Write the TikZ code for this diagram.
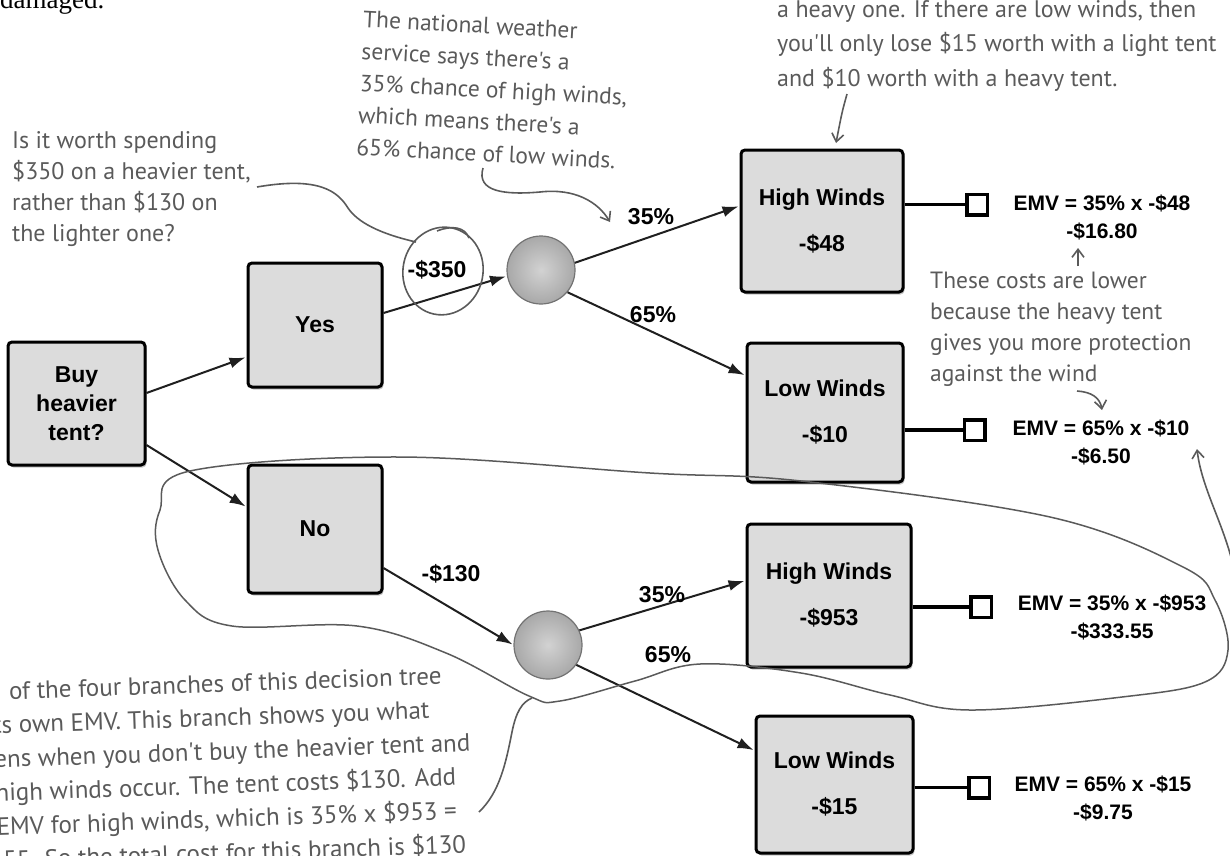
\documentclass[tikz,border=0pt]{standalone}
\usepackage{fontspec}
\setmainfont{Liberation Sans}
\newfontfamily\handfont{PT Sans}
\newfontfamily\oldserif{Liberation Serif}
\usetikzlibrary{arrows.meta,shadows,calc}
\definecolor{boxfill}{HTML}{DCDCDC}
\definecolor{handcol}{HTML}{5A5A5A}
\begin{document}
\begin{tikzpicture}[x=1pt,y=-1pt,
  box/.style={draw=black, line width=3pt, fill=boxfill, rounded corners=4pt,
    drop shadow={shadow xshift=1.5pt, shadow yshift=-2.5pt, opacity=0.45},
    align=center, inner sep=0pt, font=\fontsize{23}{46}\selectfont\bfseries},
  chance/.style={circle, minimum size=68pt, inner sep=0pt, draw=black!55, line width=1.2pt,
    shading=radial, inner color=gray!35, outer color=gray!68},
  endsq/.style={draw=black, line width=3.5pt, fill=white, minimum size=20.5pt, inner sep=0pt},
  stem/.style={line width=3.5pt, black},
  arr/.style={line width=2pt, black!88, -{Latex[length=16pt,width=11pt]}, shorten >=1pt},
  lab/.style={font=\fontsize{23}{28}\selectfont\bfseries, inner sep=0pt},
  emv/.style={font=\fontsize{21}{28}\selectfont\bfseries, align=center, inner sep=0pt},
  hand/.style={handcol, align=left, inner sep=0pt, anchor=base west},
  handline/.style={handcol, line width=1.6pt},
  handarr/.style={handcol, line width=1.6pt, -{Straight Barb[length=8pt,width=12pt]}}
]
\useasboundingbox (0,0) rectangle (1230,855);

% cut-off text at top
\node[font=\oldserif\fontsize{27}{30}\selectfont, anchor=base west, inner sep=0pt] (dmg) at (0,8) {damaged.};

% decision boxes
\node[box, minimum width=137pt, minimum height=123pt, font=\fontsize{23}{29}\selectfont\bfseries] (buy) at (76.5,403.5) {Buy\\heavier\\tent?};
\node[box, minimum width=134pt, minimum height=124pt] (yes) at (315,325) {Yes};
\node[box, minimum width=134pt, minimum height=128pt] (no) at (315,529) {No};
\node[box, minimum width=162pt, minimum height=142pt] (hw1) at (822,221) {High Winds\\-\$48};
\node[box, minimum width=156pt, minimum height=139pt] (lw1) at (825,412.5) {Low Winds\\-\$10};
\node[box, minimum width=164pt, minimum height=143pt] (hw2) at (829,595.5) {High Winds\\-\$953};
\node[box, minimum width=157pt, minimum height=137pt] (lw2) at (834.5,784.5) {Low Winds\\-\$15};

% chance nodes
\node[chance] (c1) at (541,270) {};
\node[chance] (c2) at (548,645) {};

% end squares
\node[endsq] (sq1) at (977,204.5) {};
\node[endsq] (sq2) at (974.5,430) {};
\node[endsq] (sq3) at (981,607) {};
\node[endsq] (sq4) at (979,787.5) {};
\draw[stem] (hw1.east |- sq1) -- (sq1.west);
\draw[stem] (lw1.east |- sq2) -- (sq2.west);
\draw[stem] (hw2.east |- sq3) -- (sq3.west);
\draw[stem] (lw2.east |- sq4) -- (sq4.west);

% EMV texts
\node[emv] (e1) at (1102,217) {EMV = 35\% x -\$48\\-\$16.80};
\node[emv] (e2) at (1101,442) {EMV = 65\% x -\$10\\-\$6.50};
\node[emv] (e3) at (1112,617) {EMV = 35\% x -\$953\\-\$333.55};
\node[emv] (e4) at (1103,798) {EMV = 65\% x -\$15\\-\$9.75};

% arrows
\draw[arr] ([yshift=10.5pt]buy.east) -- ([yshift=-32pt]yes.west);
\draw[arr] ([yshift=-41.5pt]buy.east) -- ([yshift=22pt]no.west);
\draw[arr] ([yshift=12pt]yes.east) -- (c1.190);
\draw[arr] (c1.12) -- ([yshift=15pt]hw1.west);
\draw[arr] (c1.-40) -- ([yshift=37pt]lw1.west);
\draw[arr] ([yshift=-39pt]no.east) -- (c2.west);
\draw[arr] (c2.25) -- ([yshift=15pt]hw2.west);
\draw[arr] (c2.-35) -- ([yshift=34pt]lw2.west);

% branch labels
\node[lab] (l350) at (437,270) {-\$350};
\node[lab] (l35a) at (651,217) {35\%};
\node[lab] (l65a) at (653,315) {65\%};
\node[lab] (l130) at (451,574) {-\$130};
\node[lab] (l35b) at (662,595) {35\%};
\node[lab] (l65b) at (668,655) {65\%};

% handwritten annotations (anchored at the baseline of their last line)
\node[hand, font=\handfont\fontsize{24}{31}\selectfont] (ul) at (12,241)
  {Is it worth spending\\\$350 on a heavier tent,\\rather than \$130 on\\the lighter one?};
\node[hand, font=\handfont\fontsize{23.5}{32}\selectfont, rotate=-3] (mid) at (356,155)
  {The national weather\\service says there's a\\35\% chance of high winds,\\which means there's a\\65\% chance of low winds.};
\node[hand, font=\handfont\fontsize{24}{34.5}\selectfont] (tr) at (777,86)
  {a heavy one. If there are low winds, then\\you'll only lose \$15 worth with a light tent\\and \$10 worth with a heavy tent.};
\node[hand, font=\handfont\fontsize{23.5}{31}\selectfont] (rt) at (930,381)
  {These costs are lower\\because the heavy tent\\gives you more protection\\against the wind};
\node[hand, font=\handfont\fontsize{25}{33.8}\selectfont, rotate=2] (bl) at (-2,869)
  {\hspace*{17pt}of the four branches of this decision tree\\ts own EMV. This branch shows you what\\ens when you don't buy the heavier tent and\\high winds occur. The tent costs \$130. Add\\EMV for high winds, which is 35\% x \$953 =\\.55. So the total cost for this branch is \$130};

% annotation connectors
\coordinate (ulEnd) at (257,187);
\coordinate (ellTop) at (416,242);
\draw[handline] (ulEnd) .. controls (320,176) and (338,192) .. (348,208)
  .. controls (360,226) and (390,236) .. (ellTop);
\draw[handline, rotate around={-12:(443,271)}] (443,271) ellipse [x radius=40, y radius=44];
\draw[handline] (437,231) .. controls (452,225) and (465,227) .. (469,238);

\coordinate (midA) at (483,168);
\coordinate (midB) at (610,222);
\draw[handarr] (midA) .. controls (476,192) and (505,195) .. (540,192)
  .. controls (575,188) and (598,202) .. (midB);

\coordinate (trA) at (847,94);
\coordinate (trB) at (836,143);
\draw[handarr] (trA) .. controls (842,112) .. (trB);

\coordinate (rtA) at (1078,266);
\coordinate (rtB) at (1078,248);
\draw[handarr] (rtA) -- (rtB);
\coordinate (rtC) at (1077,391);
\coordinate (rtD) at (1102,410);
\draw[handarr] (rtC) .. controls (1092,392) and (1100,398) .. (rtD);

\coordinate (rgA) at (1236,580);
\coordinate (rgB) at (1197,449);
\draw[handarr] (rgA) .. controls (1228,530) and (1202,492) .. (rgB);

% loop around the No / High Winds branch
\draw[handcol, line width=1.5pt] plot[smooth cycle, tension=0.6] coordinates {
  (190,471) (400,457) (650,473) (801,481) (1050,517) (1183,567) (1215,600)
  (1228,650) (1205,682) (1122,697) (970,710) (890,695) (801,673) (700,664)
  (635,681) (560,701) (529,696) (446,653) (357,626) (232,626) (185,600)
  (158,550) (160,510)};
\coordinate (brA) at (479,812);
\coordinate (brB) at (532,698);
\draw[handline] (brA) .. controls (500,792) and (506,762) .. (512,732)
  .. controls (516,712) and (522,702) .. (brB);
\end{tikzpicture}
\end{document}
